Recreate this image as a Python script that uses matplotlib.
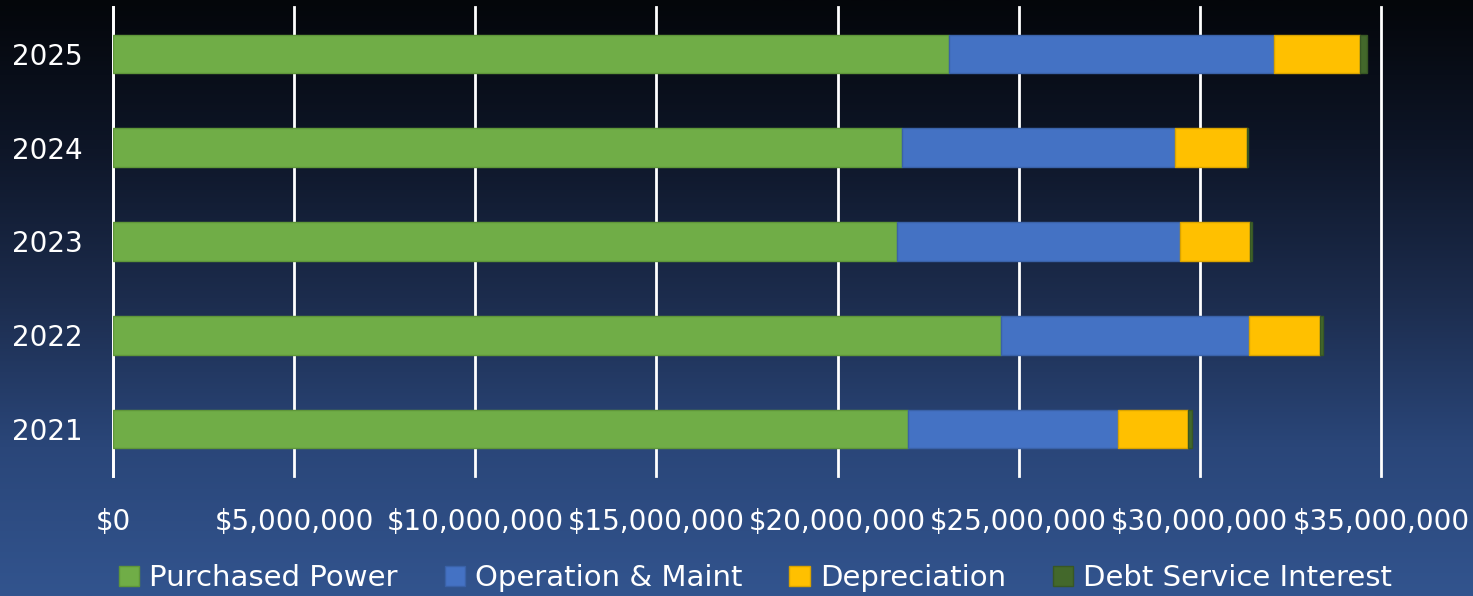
import numpy as np
import matplotlib
matplotlib.use("Agg")
import matplotlib.pyplot as plt
from matplotlib.colors import LinearSegmentedColormap

years = ["2021", "2022", "2023", "2024", "2025"]
purchased_power = [21.94e6, 24.51e6, 21.64e6, 21.78e6, 23.07e6]
operation_maint = [5.80e6, 6.84e6, 7.81e6, 7.53e6, 8.98e6]
depreciation = [1.93e6, 1.96e6, 1.93e6, 1.99e6, 2.37e6]
debt_interest = [0.11e6, 0.09e6, 0.05e6, 0.03e6, 0.19e6]

series = [
    ("Purchased Power", purchased_power, "#70AD47", "#5f9639"),
    ("Operation & Maint", operation_maint, "#4472C4", "#3a62a8"),
    ("Depreciation", depreciation, "#FFC000", "#d9a300"),
    ("Debt Service Interest", debt_interest, "#43682B", "#385724"),
]
x_ticks = np.arange(0, 35e6 + 1, 5e6)

plt.rcParams['font.family'] = ['DejaVu Sans']

fig = plt.figure(figsize=(14.73, 5.96), dpi=100)

# background gradient
bg = fig.add_axes([0, 0, 1, 1], zorder=-10)
cmap = LinearSegmentedColormap.from_list(
    "bg", ["#04060a", "#0e1628", "#1c2c4d", "#2a4679", "#32548e"])
grad = np.linspace(0, 1, 256).reshape(-1, 1)
bg.imshow(grad, aspect="auto", cmap=cmap, extent=[0, 1, 0, 1], origin="upper")
bg.axis("off")

ax = fig.add_axes([113 / 1473, 1 - 476 / 596, (1381 - 113) / 1473, (476 - 7) / 596])
ax.set_facecolor("none")

y = np.arange(len(years))
left = np.zeros(len(years))
handles = []
for name, vals, color, edge in series:
    b = ax.barh(y, vals, left=left, height=0.41, color=color,
                edgecolor=edge, linewidth=1, label=name, zorder=3)
    handles.append(b)
    left = left + np.array(vals)

ax.set_xlim(0, 35e6)
ax.set_ylim(-0.5, 4.5)
ax.set_yticks(y)
ax.set_yticklabels(years)
ax.set_xticks(x_ticks)
ax.set_xticklabels(["${:,.0f}".format(v) for v in x_ticks])
ax.tick_params(axis="both", length=0, colors="white", labelsize=20)
ax.tick_params(axis="x", pad=23)
ax.tick_params(axis="y", pad=22)
ax.grid(axis="x", color="white", linewidth=2, zorder=0)
for gl in ax.get_xgridlines():
    gl.set_clip_on(False)
for s in ["top", "right", "bottom"]:
    ax.spines[s].set_visible(False)
ax.spines["left"].set_color("white")
ax.spines["left"].set_linewidth(2)

leg = fig.legend(handles=handles, loc="center", bbox_to_anchor=(0.513, 1 - 578 / 596),
                 ncol=4, frameon=False, fontsize=21, handlelength=0.7,
                 handleheight=0.7, handletextpad=0.35, columnspacing=1.6)
for t in leg.get_texts():
    t.set_color("white")

fig.savefig("out.png", dpi=100)
